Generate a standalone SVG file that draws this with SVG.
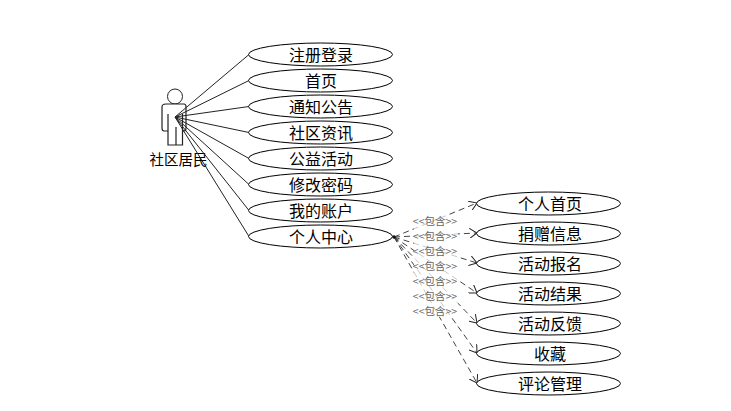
<svg xmlns="http://www.w3.org/2000/svg" width="731" height="411" viewBox="0 0 731 411">
<defs>
<style>
.uc{fill:#fff;stroke:#000;stroke-width:1}
.t{font-family:"Noto Sans CJK SC","Liberation Sans",sans-serif;font-size:16px;fill:#000;text-anchor:middle}
.l{font-family:"Noto Sans CJK SC","Liberation Sans",sans-serif;font-size:10.500px;fill:#666;text-anchor:middle}
.a{fill:none;stroke:#222;stroke-width:1}
.d{fill:none;stroke:#444;stroke-width:1;stroke-dasharray:6 4;marker-end:url(#o)}
</style>
<marker id="o" viewBox="0 0 8 10" refX="7.500" refY="5" markerWidth="8" markerHeight="10" markerUnits="userSpaceOnUse" orient="auto"><path d="M0 0L7.500 5L0 10" fill="none" stroke="#222" stroke-width="1"/></marker>
</defs>
<rect width="731" height="411" fill="#fff"/>
<g id="actor">
<circle cx="175" cy="96.500" r="7.500" fill="#fff" stroke="#222" stroke-width="1"/>
<path d="M166 104H184Q186 104 186 107V128Q186 131 184 131H182.500V145H176V127V145H168V131H164Q162 131 162 128V107Q162 104 166 104ZM168 114V131M182.500 114V131" fill="#fff" stroke="#222" stroke-width="1.200"/>
<text class="t" x="178.500" y="164.500" style="font-size:14.500px">社区居民</text>
</g>
<g id="connectors">
<path class="a" d="M175 117L249 54.500M175 117L249 80.500M175 117L249 106.500M175 117L249 132.500M175 117L249 158.500M175 117L249 184.500M175 117L249 210.500M175 117L249 236.500"/>
<path class="d" d="M394 237L477 203"/>
<path class="d" d="M394 237L477 233"/>
<path class="d" d="M394 237L477 263"/>
<path class="d" d="M394 237L477 293"/>
<path class="d" d="M394 237L477 323"/>
<path class="d" d="M394 237L477 353"/>
<path class="d" d="M394 237L477 383"/>
<circle cx="394" cy="237" r="1.800" fill="#111"/>
<g id="edge-labels">
<rect x="414" y="215" width="44" height="102" fill="#fff" fill-opacity=".7"/>
<text class="l" x="435" y="225">&lt;&lt;包含&gt;&gt;</text>
<text class="l" x="435" y="240">&lt;&lt;包含&gt;&gt;</text>
<text class="l" x="435" y="255">&lt;&lt;包含&gt;&gt;</text>
<text class="l" x="435" y="270">&lt;&lt;包含&gt;&gt;</text>
<text class="l" x="435" y="285">&lt;&lt;包含&gt;&gt;</text>
<text class="l" x="435" y="300">&lt;&lt;包含&gt;&gt;</text>
<text class="l" x="435" y="315">&lt;&lt;包含&gt;&gt;</text>
</g>
</g>
<g id="uc1"><ellipse class="uc" cx="320.500" cy="54.500" rx="72" ry="11.500"/><text class="t" x="321" y="60.500">注册登录</text></g>
<g id="uc2"><ellipse class="uc" cx="320.500" cy="80.500" rx="72" ry="11.500"/><text class="t" x="321" y="86.500">首页</text></g>
<g id="uc3"><ellipse class="uc" cx="320.500" cy="106.500" rx="72" ry="11.500"/><text class="t" x="321" y="112.500">通知公告</text></g>
<g id="uc4"><ellipse class="uc" cx="320.500" cy="132.500" rx="72" ry="11.500"/><text class="t" x="321" y="138.500">社区资讯</text></g>
<g id="uc5"><ellipse class="uc" cx="320.500" cy="158.500" rx="72" ry="11.500"/><text class="t" x="321" y="164.500">公益活动</text></g>
<g id="uc6"><ellipse class="uc" cx="320.500" cy="184.500" rx="72" ry="11.500"/><text class="t" x="321" y="190.500">修改密码</text></g>
<g id="uc7"><ellipse class="uc" cx="320.500" cy="210.500" rx="72" ry="11.500"/><text class="t" x="321" y="216.500">我的账户</text></g>
<g id="uc8"><ellipse class="uc" cx="320.500" cy="236.500" rx="72" ry="11.500"/><text class="t" x="321" y="242.500">个人中心</text></g>
<g id="uc9"><ellipse class="uc" cx="548.500" cy="203.500" rx="72" ry="11.500"/><text class="t" x="550" y="209.500">个人首页</text></g>
<g id="uc10"><ellipse class="uc" cx="548.500" cy="233.500" rx="72" ry="11.500"/><text class="t" x="550" y="239.500">捐赠信息</text></g>
<g id="uc11"><ellipse class="uc" cx="548.500" cy="263.500" rx="72" ry="11.500"/><text class="t" x="550" y="269.500">活动报名</text></g>
<g id="uc12"><ellipse class="uc" cx="548.500" cy="293.500" rx="72" ry="11.500"/><text class="t" x="550" y="299.500">活动结果</text></g>
<g id="uc13"><ellipse class="uc" cx="548.500" cy="323.500" rx="72" ry="11.500"/><text class="t" x="550" y="329.500">活动反馈</text></g>
<g id="uc14"><ellipse class="uc" cx="548.500" cy="353.500" rx="72" ry="11.500"/><text class="t" x="550" y="359.500">收藏</text></g>
<g id="uc15"><ellipse class="uc" cx="548.500" cy="383.500" rx="72" ry="11.500"/><text class="t" x="550" y="389.500">评论管理</text></g>
</svg>
